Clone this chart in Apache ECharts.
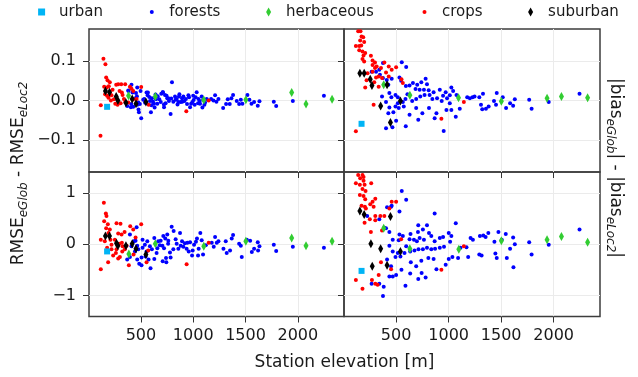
<!DOCTYPE html>
<html>
<head>
<meta charset="utf-8">
<script src="https://cdn.jsdelivr.net/npm/echarts@6/dist/echarts.min.js"></script>
<style>
  html, body { margin: 0; padding: 0; background: #fff; }
  #chart { width: 638px; height: 377px; }
</style>
</head>
<body>
<div id="chart"></div>
<script>
// station elevation [m] vs score difference, one array per panel and land cover
const xTicks = [500, 1000, 1500, 2000];
const yTicksTop = [-0.1, 0, 0.1];
const yTicksBottom = [-1, 0, 1];

// top left: RMSE difference, global vs local (upper rows)
const tlUrban = [[177, -0.016]];
const tlForests = [
  [382, 0.024], [410, 0.040], [420, 0.020], [379, 0.025], [465, 0.033], [497, 0.024], [453, 0.019], [462, 0.011],
  [449, 0.006], [475, -0.005], [404, -0.017], [369, -0.014], [407, -0.009], [427, -0.016], [490, -0.009], [465, -0.011],
  [481, -0.030], [477, -0.023], [503, -0.045], [522, 0.002], [532, 0.004], [554, 0.020], [564, 0.013], [567, 0.020],
  [587, -0.001], [596, -0.030], [605, 0.006], [615, -0.003], [625, -0.008], [631, -0.018], [644, 0.003], [657, -0.008],
  [660, 0.011], [676, 0.003], [695, 0.017], [708, 0.021], [711, 0.021], [721, -0.017], [730, 0.014], [736, -0.007],
  [752, 0.006], [762, 0.006], [768, -0.001], [784, -0.034], [797, 0.046], [810, -0.003], [826, 0.010], [832, 0.002],
  [842, 0.004], [858, -0.004], [864, 0.010], [868, 0.016], [880, -0.004], [893, 0.006], [896, -0.003], [906, 0.010],
  [916, -0.001], [941, -0.009], [954, 0.013], [960, 0.008], [970, -0.017], [980, -0.008], [992, -0.004], [1004, 0.001],
  [1014, -0.011], [1023, 0.008], [1033, 0.021], [1046, -0.007], [1062, -0.001], [1065, -0.008], [1081, 0.010], [1088, -0.018],
  [1107, -0.011], [1113, -0.005], [1129, 0.004], [1171, 0.004], [1193, 0.000], [1209, 0.013], [1222, -0.003], [1241, 0.004],
  [1286, -0.019], [1314, -0.009], [1330, 0.003], [1349, -0.009], [1365, 0.006], [1381, 0.014], [1416, -0.001], [1439, -0.009],
  [1455, 0.002], [1470, -0.008], [1518, 0.014], [1537, 0.002], [1557, -0.008], [1582, -0.004], [1617, -0.013], [1633, -0.002],
  [1770, -0.003], [1793, -0.014], [1952, -0.001], [2249, 0.012],
  [540, -0.006], [580, 0.009], [690, -0.004], [745, 0.012], [790, 0.005], [850, -0.010], [930, 0.004], [1000, 0.012],
  [1050, 0.004], [1095, 0.002], [720, -0.010], [640, 0.015], [600, -0.012]
];
const tlHerbaceous = [[382, 0.012], [638, 0.010], [1101, 0.001], [1503, 0.002], [1941, 0.020], [2078, -0.009], [2327, 0.003]];
const tlCrops = [
  [142, 0.106], [161, 0.092], [168, 0.058], [181, 0.051], [203, 0.046], [149, 0.035], [174, 0.033], [193, 0.036],
  [264, 0.040], [283, 0.041], [312, 0.041], [350, 0.041], [296, 0.024], [318, 0.020], [325, 0.014], [395, 0.035],
  [410, 0.030], [427, 0.024], [503, 0.034], [117, -0.012], [190, 0.007], [177, 0.012], [203, 0.020], [219, 0.013],
  [242, 0.003], [255, -0.008], [277, -0.011], [306, -0.007], [338, 0.004], [350, -0.004], [379, -0.005], [427, 0.003],
  [459, 0.004], [574, -0.011], [934, -0.027], [1148, 0.000], [114, -0.089], [158, 0.016], [213, 0.000], [229, 0.027]
];
const tlSuburban = [[161, 0.024], [200, 0.021], [264, 0.010], [280, 0.000], [357, -0.006], [417, 0.004], [453, -0.008], [548, -0.004]];

// top right: |bias| difference (upper rows)
const trUrban = [[171, -0.059]];
const trForests = [
  [554, 0.097], [596, 0.085], [375, 0.095], [340, 0.078], [267, 0.073], [309, 0.073], [346, 0.065], [375, 0.057],
  [426, 0.040], [411, 0.052], [458, 0.055], [532, 0.058], [548, 0.050], [593, 0.037], [628, 0.038], [660, 0.044],
  [701, 0.040], [740, 0.046], [781, 0.055], [794, 0.041], [685, 0.029], [724, 0.027], [765, 0.027], [810, 0.026],
  [857, 0.021], [916, 0.027], [947, 0.012], [972, 0.021], [1026, 0.033], [1043, 0.024], [1075, 0.014], [1011, 0.013],
  [985, 0.006], [934, -0.001], [890, 0.006], [845, 0.004], [819, 0.014], [771, 0.014], [730, 0.010], [691, 0.004],
  [653, -0.001], [589, 0.004], [564, -0.004], [516, -0.007], [494, -0.015], [525, -0.019], [474, -0.030], [426, -0.032],
  [404, -0.004], [436, -0.018], [366, 0.010], [436, 0.019], [494, 0.014], [516, 0.008], [608, 0.016], [573, -0.015],
  [628, -0.036], [691, -0.019], [711, -0.049], [592, -0.065], [465, -0.068], [404, -0.070], [500, -0.051], [750, -0.032],
  [813, -0.019], [867, -0.045], [884, -0.032], [953, -0.077], [979, -0.024], [1011, -0.007], [1026, -0.024], [1068, -0.041],
  [1106, -0.021], [1177, 0.008], [1202, 0.006], [1228, 0.008], [1247, 0.010], [1292, 0.008], [1327, 0.017], [1308, -0.011],
  [1320, -0.022], [1355, -0.021], [1381, -0.015], [1432, -0.001], [1458, 0.019], [1451, -0.011], [1515, 0.008], [1547, -0.019],
  [1585, -0.007], [1614, -0.013], [1630, 0.003], [1767, 0.002], [1790, -0.021], [1953, -0.004], [2246, 0.017], [455, 0.008]
];
const trHerbaceous = [[382, 0.040], [631, 0.013], [1094, 0.007], [1502, -0.002], [1937, 0.006], [2074, 0.010], [2323, 0.007]];
const trCrops = [
  [139, 0.175], [161, 0.175], [171, 0.162], [187, 0.160], [158, 0.152], [196, 0.148], [117, 0.138], [149, 0.138],
  [168, 0.139], [149, 0.127], [180, 0.124], [206, 0.120], [190, 0.114], [180, 0.105], [196, 0.099], [260, 0.113],
  [276, 0.101], [299, 0.096], [276, 0.090], [315, 0.086], [299, 0.082], [356, 0.082], [388, 0.096], [430, 0.086],
  [458, 0.078], [500, 0.084], [551, 0.054], [564, 0.044], [334, 0.061], [366, 0.057], [309, 0.058], [292, 0.046],
  [219, 0.051], [206, 0.033], [334, 0.035], [286, -0.011], [117, -0.078], [931, -0.046], [1145, -0.004], [430, 0.061],
  [404, 0.071], [276, 0.073], [228, 0.069]
];
const trSuburban = [[155, 0.069], [196, 0.069], [254, 0.054], [270, 0.038], [414, 0.040], [353, -0.014], [541, -0.001], [446, -0.056]];

// bottom left: RMSE difference (lower rows)
const blUrban = [[177, -0.14]];
const blForests = [
  [459, 0.33], [395, 0.19], [449, 0.07], [465, -0.03], [475, -0.10], [465, -0.30], [506, -0.26], [484, -0.38],
  [506, -0.41], [395, -0.25], [369, -0.30], [443, -0.14], [592, -0.47], [628, -0.29], [650, -0.17], [708, -0.33],
  [740, -0.27], [784, -0.26], [743, -0.35], [561, 0.06], [538, -0.01], [516, -0.07], [586, -0.04], [605, -0.10],
  [666, 0.06], [628, 0.12], [689, 0.07], [714, 0.16], [733, 0.11], [762, 0.07], [794, 0.34], [813, 0.26],
  [752, 0.19], [832, 0.10], [842, 0.01], [874, 0.22], [893, 0.06], [906, -0.05], [858, -0.09], [937, -0.09],
  [944, 0.03], [970, 0.04], [995, -0.12], [1008, -0.01], [1026, 0.05], [1036, 0.11], [1052, -0.09], [1068, 0.22],
  [1081, 0.08], [1094, -0.20], [1046, -0.22], [989, -0.22], [957, -0.14], [810, -0.10], [778, -0.16], [705, -0.03],
  [657, -0.08], [721, -0.08], [1177, 0.03], [1196, -0.05], [1209, 0.14], [1225, 0.03], [1241, 0.06], [1289, -0.09],
  [1311, 0.06], [1320, -0.17], [1352, -0.12], [1368, 0.11], [1381, 0.18], [1439, 0.01], [1455, -0.03], [1464, -0.25],
  [1512, 0.09], [1544, 0.07], [1560, -0.15], [1582, -0.09], [1617, 0.04], [1620, -0.12], [1633, -0.04], [1770, -0.01],
  [1793, -0.13], [1952, -0.05], [2249, -0.07], [545, -0.24], [573, -0.30], [554, -0.14], [516, 0.09], [433, 0.06],
  [410, -0.04], [680, -0.02], [760, 0.01], [880, -0.03], [920, 0.02], [1120, -0.02]
];
const blHerbaceous = [[385, -0.19], [638, 0.01], [1101, -0.04], [1503, 0.06], [1941, 0.12], [2078, -0.03], [2327, 0.06]];
const blCrops = [
  [146, 0.81], [165, 0.60], [171, 0.55], [149, 0.45], [184, 0.39], [168, 0.31], [203, 0.29], [190, 0.22],
  [117, 0.09], [155, 0.06], [209, 0.09], [267, 0.41], [305, 0.40], [283, 0.21], [315, 0.19], [344, 0.24],
  [398, 0.35], [427, 0.29], [503, 0.39], [449, 0.13], [251, 0.09], [293, 0.01], [318, 0.03], [219, -0.01],
  [177, -0.07], [267, -0.10], [261, -0.17], [283, -0.28], [299, -0.25], [322, -0.14], [347, -0.10], [385, -0.41],
  [187, -0.35], [117, -0.49], [430, -0.20], [554, -0.35], [570, -0.12], [937, -0.39], [1148, 0.03], [219, -0.10],
  [235, -0.22], [363, -0.03], [325, -0.04]
];
const blSuburban = [[161, 0.16], [200, 0.16], [267, 0.02], [280, -0.03], [357, -0.03], [417, 0.01], [453, -0.09], [548, -0.20]];

// bottom right: |bias| difference (lower rows)
const brUrban = [[171, -0.52]];
const brForests = [
  [554, 1.04], [596, 0.87], [414, 0.72], [458, 0.75], [532, 0.64], [225, 0.55], [340, 0.49], [436, 0.24],
  [404, 0.31], [867, 0.60], [1068, 0.41], [711, 0.37], [794, 0.37], [755, 0.29], [813, 0.22], [708, 0.24],
  [637, 0.20], [532, 0.19], [564, 0.16], [628, 0.10], [670, 0.09], [698, 0.06], [724, 0.12], [765, 0.09],
  [835, 0.16], [867, 0.06], [916, 0.12], [947, 0.14], [1001, 0.22], [1026, 0.16], [1014, 0.05], [956, -0.05],
  [916, -0.07], [871, -0.09], [835, -0.10], [794, -0.07], [755, -0.10], [713, -0.10], [675, -0.12], [634, -0.14],
  [596, -0.04], [580, -0.17], [541, -0.24], [516, -0.17], [494, -0.25], [468, -0.14], [436, -0.03], [468, 0.09],
  [414, -0.30], [452, -0.43], [468, -0.63], [500, -0.60], [551, -0.50], [589, -0.81], [634, -0.57], [711, -0.68],
  [743, -0.56], [781, -0.65], [691, -0.43], [640, -0.35], [740, -0.32], [807, -0.27], [857, -0.29], [884, -0.49],
  [972, -0.40], [1001, -0.29], [1036, -0.25], [1090, -0.27], [1113, -0.07], [1170, -0.06], [1186, -0.25], [1209, 0.12],
  [1231, 0.09], [1292, -0.20], [1314, -0.22], [1298, 0.16], [1330, 0.17], [1352, 0.14], [1378, 0.22], [1436, 0.05],
  [1445, -0.18], [1458, -0.27], [1474, 0.24], [1506, 0.09], [1544, 0.20], [1554, -0.27], [1585, -0.09], [1614, 0.13],
  [1617, -0.45], [1630, 0.00], [1767, 0.04], [1790, -0.20], [1953, -0.01], [2246, 0.29], [375, -1.01], [267, -0.77],
  [340, -0.77], [382, -0.83], [452, 0.73], [388, 0.32], [436, -0.63], [525, 0.08]
];
const brHerbaceous = [[382, 0.31], [631, -0.09], [1097, -0.10], [1502, 0.07], [1937, 0.09], [2074, 0.15], [2323, 0.04]];
const brCrops = [
  [139, 1.35], [180, 1.35], [158, 1.29], [190, 1.31], [190, 1.24], [117, 1.19], [155, 1.16], [200, 1.16],
  [263, 1.19], [180, 1.08], [209, 1.04], [155, 0.96], [190, 0.94], [206, 0.88], [302, 0.89], [276, 0.83],
  [254, 0.78], [171, 0.75], [203, 0.73], [286, 0.73], [458, 0.83], [500, 0.83], [436, 0.70], [350, 0.55],
  [388, 0.55], [302, 0.55], [250, 0.49], [302, 0.47], [200, 0.42], [260, 0.24], [366, 0.27], [548, 0.10],
  [1145, -0.04], [356, -0.35], [334, -0.60], [270, -0.70], [117, -0.70], [180, -0.87], [302, -0.77], [931, -0.50],
  [452, -0.49], [324, -0.79], [212, 0.70]
];
const brSuburban = [[155, 0.65], [196, 0.58], [446, 0.54], [260, 0.01], [353, -0.09], [541, -0.14], [273, -0.43], [414, -0.41]];

const font = "DejaVu Sans";
const colors = {
  urban: "#00b4f5",
  forests: "#0000ff",
  herbaceous: "#32cd32",
  crops: "#ff0000",
  suburban: "#000000",
};
const symbols = {
  urban: ["rect", 6],
  forests: ["circle", 4],
  herbaceous: ["diamond", [5, 9]],
  crops: ["circle", 4],
  suburban: ["diamond", [5, 9]],
};

const panels = [
  { urban: tlUrban, forests: tlForests, herbaceous: tlHerbaceous, crops: tlCrops, suburban: tlSuburban },
  { urban: trUrban, forests: trForests, herbaceous: trHerbaceous, crops: trCrops, suburban: trSuburban },
  { urban: blUrban, forests: blForests, herbaceous: blHerbaceous, crops: blCrops, suburban: blSuburban },
  { urban: brUrban, forests: brForests, herbaceous: brHerbaceous, crops: brCrops, suburban: brSuburban },
];

const fmtTop = (v) => (v < 0 ? "\u2212" : "") + Math.abs(v).toFixed(1);
const fmtBottom = (v) => (v < 0 ? "\u2212" : "") + Math.abs(v).toFixed(0);

const gridBase = {
  show: true,
  borderColor: "#3d3d3d",
  borderWidth: 1.5,
  backgroundColor: "transparent",
  outerBoundsMode: "none",
  containLabel: false,
};
const grids = [
  { ...gridBase, left: 89, top: 29, width: 255, height: 143 },
  { ...gridBase, left: 344, top: 29, width: 256, height: 143 },
  { ...gridBase, left: 89, top: 172, width: 255, height: 144.5 },
  { ...gridBase, left: 344, top: 172, width: 256, height: 144.5 },
];

const xAxes = [0, 1, 2, 3].map((i) => ({
  type: "value",
  gridIndex: i,
  min: 4,
  max: 2441,
  axisLine: { show: false, onZero: false },
  axisTick: { show: true, customValues: xTicks, length: 6, lineStyle: { color: "#333", width: 1 } },
  axisLabel: {
    show: i >= 2,
    customValues: xTicks,
    formatter: (v) => String(v),
    fontSize: 16,
    fontFamily: font,
    color: "#1a1a1a",
    margin: 11,
  },
  splitLine: { show: true, lineStyle: { color: "#ebebeb", width: 1 } },
}));

const yAxes = [0, 1, 2, 3].map((i) => {
  const top = i < 2;
  const ticks = top ? yTicksTop : yTicksBottom;
  return {
    type: "value",
    gridIndex: i,
    min: top ? -0.181 : -1.41,
    max: top ? 0.181 : 1.41,
    axisLine: { show: false, onZero: false },
    axisTick: { show: true, customValues: ticks, length: 6, lineStyle: { color: "#333", width: 1 } },
    axisLabel: {
      show: i % 2 === 0,
      customValues: ticks,
      formatter: top ? fmtTop : fmtBottom,
      fontSize: 16,
      fontFamily: font,
      color: "#1a1a1a",
      margin: 13,
    },
    splitLine: { show: true, lineStyle: { color: "#ebebeb", width: 1 } },
  };
});

const order = ["forests", "crops", "herbaceous", "suburban", "urban"];
const series = [];
panels.forEach((p, i) => {
  order.forEach((name) => {
    series.push({
      name: name,
      type: "scatter",
      xAxisIndex: i,
      yAxisIndex: i,
      data: p[name],
      symbol: symbols[name][0],
      symbolSize: symbols[name][1],
      itemStyle: { color: colors[name], opacity: 1 },
      clip: true,
      silent: true,
      emphasis: { disabled: true },
    });
  });
});

// one legend per entry so each marker keeps its own size
const legendItems = [
  { name: "urban", center: 41.6, w: 7, h: 7, icon: "rect" },
  { name: "forests", center: 151.8, w: 4, h: 4, icon: "circle" },
  { name: "herbaceous", center: 268.6, w: 5, h: 9, icon: "diamond" },
  { name: "crops", center: 424.5, w: 4, h: 4, icon: "circle" },
  { name: "suburban", center: 530.6, w: 5, h: 9, icon: "diamond" },
];
const legends = legendItems.map((it) => ({
  data: [{ name: it.name, icon: it.icon }],
  left: it.center - it.w / 2,
  top: 4.5,
  padding: 0,
  itemWidth: it.w,
  itemHeight: it.h,
  selectedMode: false,
  textStyle: {
    fontSize: 15,
    fontFamily: font,
    color: "#1a1a1a",
    padding: [0, 0, 0, 12.5 - it.w / 2],
  },
}));

const richLabel = {
  m: { fontSize: 17, fontFamily: font, fill: "#1a1a1a" },
  s: { fontSize: 12, fontFamily: font, fontStyle: "italic", fill: "#1a1a1a", padding: [9, 0, 0, 0] },
};

const chart = echarts.init(document.getElementById("chart"));
chart.setOption({
  animation: false,
  backgroundColor: "#ffffff",
  grid: grids,
  xAxis: xAxes,
  yAxis: yAxes,
  legend: legends,
  series: series,
  graphic: [
    {
      type: "text",
      x: 19,
      y: 173.5,
      rotation: Math.PI / 2,
      style: {
        text: "{m|RMSE}{s|eGlob}{m| - RMSE}{s|eLoc2}",
        align: "center",
        verticalAlign: "middle",
        rich: richLabel,
      },
    },
    {
      type: "text",
      x: 615,
      y: 168,
      rotation: -Math.PI / 2,
      style: {
        text: "{m||bias}{s|eGlob}{m|| - |bias}{s|eLoc2}{m||}",
        align: "center",
        verticalAlign: "middle",
        rich: richLabel,
      },
    },
    {
      type: "text",
      x: 344.5,
      y: 363,
      style: {
        text: "Station elevation [m]",
        align: "center",
        verticalAlign: "middle",
        fontSize: 17,
        fontFamily: font,
        fill: "#1a1a1a",
      },
    },
  ],
});
</script>
</body>
</html>
